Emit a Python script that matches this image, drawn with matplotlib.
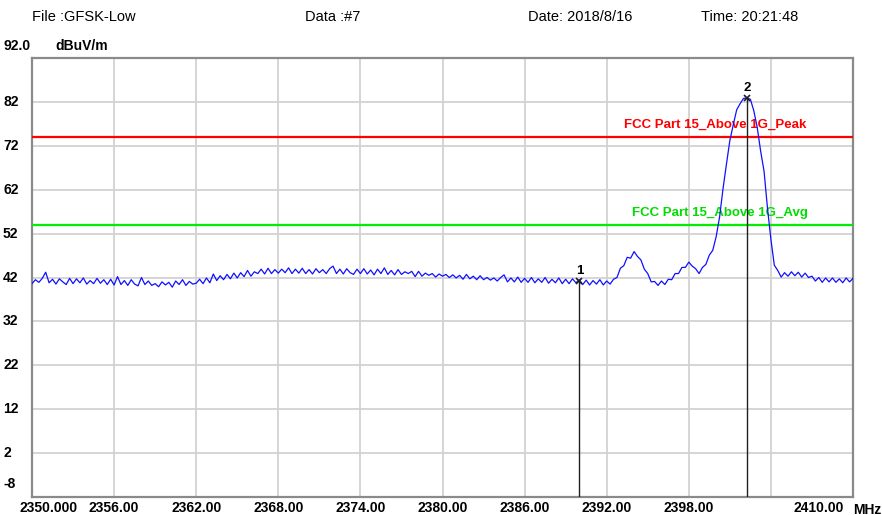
import numpy as np
import matplotlib
matplotlib.use("Agg")
import matplotlib.pyplot as plt
from matplotlib.transforms import offset_copy

plt.rcParams['font.family'] = ['Liberation Sans', 'DejaVu Sans']

# ---- data ----
f_start = 2350.0
f_step = 0.25
level = [
    40.6, 41.5, 40.9, 41.8, 43.2, 40.8, 41.6, 40.5, 41.7, 41.0, 40.4, 41.8,
    40.6, 41.7, 40.8, 41.9, 40.5, 41.3, 40.6, 41.8, 40.7, 41.5, 40.4, 41.6,
    40.3, 42.2, 40.4, 41.3, 40.2, 41.5, 40.5, 40.1, 42.0, 40.4, 41.2, 40.2,
    40.6, 39.9, 41.0, 40.3, 40.9, 39.8, 41.2, 40.4, 41.5, 40.2, 41.1, 40.5,
    40.7, 41.6, 40.6, 41.9, 40.8, 42.8, 41.3, 42.4, 41.5, 42.7, 41.7, 43.0,
    41.9, 43.1, 42.2, 43.6, 42.3, 43.3, 42.9, 43.9, 42.8, 44.1, 42.9, 43.8,
    43.0, 43.9, 43.1, 44.2, 42.9, 43.9, 43.0, 44.1, 42.9, 43.8, 42.8, 44.0,
    43.1, 43.8, 42.9, 44.0, 44.6, 42.9, 43.9, 42.8, 44.0, 43.1, 42.7, 43.9,
    42.9, 44.0, 42.8, 43.7, 42.6, 43.9, 42.9, 44.2, 42.7, 43.6, 42.6, 43.8,
    42.7, 43.3, 42.9, 43.4, 42.2, 43.4, 42.3, 43.0, 42.5, 42.9, 42.1, 42.8,
    42.3, 42.7, 42.0, 42.6, 41.9, 42.5, 41.6, 42.7, 41.7, 42.3, 41.5, 42.4,
    41.5, 42.0, 41.4, 41.9, 41.2, 42.0, 42.6, 41.0, 41.9, 41.0, 42.1, 40.9,
    41.8, 40.9, 42.0, 40.8, 41.7, 40.9, 42.0, 40.7, 41.6, 40.8, 41.9, 40.6,
    41.6, 40.6, 41.7, 40.8, 41.5, 40.4, 41.4, 40.3, 41.3, 40.5, 41.5, 40.3,
    41.2, 40.5, 41.6, 42.0, 44.1, 44.7, 46.6, 46.4, 47.9, 46.8, 46.0, 43.9,
    42.9, 41.0, 41.1, 40.2, 41.2, 40.4, 41.6, 41.5, 42.9, 42.9, 44.3, 44.3,
    45.5, 44.6, 44.0, 42.9, 44.3, 45.0, 47.1, 48.2, 51.3, 55.8, 62.2, 67.8,
    73.2, 76.8, 80.2, 81.6, 82.8, 82.9, 82.6, 80.0, 76.2, 70.8, 66.2, 57.8,
    50.7, 44.8, 43.6, 42.1, 43.1, 42.3, 43.3, 42.4, 43.2, 42.1, 43.0, 42.0,
    42.3, 41.2, 42.0, 40.9, 41.9, 41.0, 41.9, 40.9, 41.7, 40.8, 41.9, 41.0,
    41.8,
]
freq = [f_start + f_step * i for i in range(len(level))]

peak_limit = 74.0
avg_limit = 54.0
peak_label = "FCC Part 15_Above 1G_Peak"
avg_label = "FCC Part 15_Above 1G_Avg"

marker_names = ["1", "2"]
marker_freq = [2390.0, 2402.25]
marker_level = [41.1, 82.9]

x_ticks = [2350, 2356, 2362, 2368, 2374, 2380, 2386, 2392, 2398, 2404, 2410]
x_labels = ["2350.000", "2356.00", "2362.00", "2368.00", "2374.00", "2380.00",
            "2386.00", "2392.00", "2398.00", "", "2410.00"]
y_ticks = [92, 82, 72, 62, 52, 42, 32, 22, 12, 2, -8]
y_labels = ["92.0", "82", "72", "62", "52", "42", "32", "22", "12", "2", "-8"]

header = ["File :GFSK-Low", "Data :#7", "Date: 2018/8/16", "Time: 20:21:48"]
header_x = [32, 305, 528, 701]

# ---- figure ----
W, H = 882, 515
fig = plt.figure(figsize=(W / 100, H / 100), dpi=100)
L, R, T, B = 32, 853, 58, 497
ax = fig.add_axes([L / W, 1 - B / H, (R - L) / W, (B - T) / H])
ax.set_xlim(2350, 2410)
ax.set_ylim(-8, 92)

ax.set_xticks(x_ticks)
ax.set_yticks(y_ticks)
ax.tick_params(length=0, labelbottom=False, labelleft=False)
ax.grid(True, color='#d2d2d2', lw=1.3)
ax.set_axisbelow(True)
for s in ax.spines.values():
    s.set_color('#8a8a8a')
    s.set_linewidth(1.6)

ax.axhline(peak_limit, color='#ff0000', lw=1.6, zorder=3)
ax.axhline(avg_limit, color='#00ee00', lw=1.6, zorder=3)
ax.text(2399.9, peak_limit + 1.4, peak_label, color='#ff0000', fontsize=9.5,
        fontweight='bold', ha='center', va='bottom', zorder=4)
ax.text(2400.3, avg_limit + 1.4, avg_label, color='#00dd00', fontsize=9.5,
        fontweight='bold', ha='center', va='bottom', zorder=4)

ax.plot(freq, level, color='#1010ff', lw=0.9, zorder=5)

for name, mf, ml in zip(marker_names, marker_freq, marker_level):
    ax.plot([mf, mf], [-8, ml], color='#202020', lw=1.0, zorder=6)
    ax.plot([mf], [ml], marker='x', color='#202020', ms=5, mew=1.2, zorder=7)
    ax.text(mf, ml + 1.0, name, color='black', fontsize=9.5, fontweight='bold',
            ha='center', va='bottom', zorder=7)

# x tick labels
for t, lab in zip(x_ticks, x_labels):
    if not lab:
        continue
    dx = 0
    if t == x_ticks[0]:
        dx = 12
    elif t == x_ticks[-1]:
        dx = -25
    tr = offset_copy(ax.get_xaxis_transform(), fig=fig, x=dx, y=-3, units='points')
    ax.text(t, 0, lab, transform=tr, fontsize=10, fontweight='bold',
            ha='center', va='top')
trm = offset_copy(ax.transAxes, fig=fig, x=0, y=-4, units='points')
ax.text(1.0, 0, "MHz", transform=trm, fontsize=10, fontweight='bold',
        ha='left', va='top')

# y tick labels
xl = -(L - 3) / (R - L)
for t, lab in zip(y_ticks, y_labels):
    dy = 0
    if t == y_ticks[0] or t == y_ticks[-1]:
        dy = 9
    tr = offset_copy(ax.get_yaxis_transform(), fig=fig, x=0, y=dy, units='points')
    ax.text(xl, t, lab, transform=tr, fontsize=10,
            fontweight='bold', ha='left', va='center')

ax.text(xl + 52 / (R - L), 92, "dBuV/m",
        transform=offset_copy(ax.get_yaxis_transform(), fig=fig, x=0, y=9, units='points'),
        fontsize=10, fontweight='bold', ha='left', va='center')

for hx, ht in zip(header_x, header):
    fig.text(hx / W, 1 - 17 / H, ht, fontsize=10.5, ha='left', va='center')

fig.savefig("out.png", dpi=100)
